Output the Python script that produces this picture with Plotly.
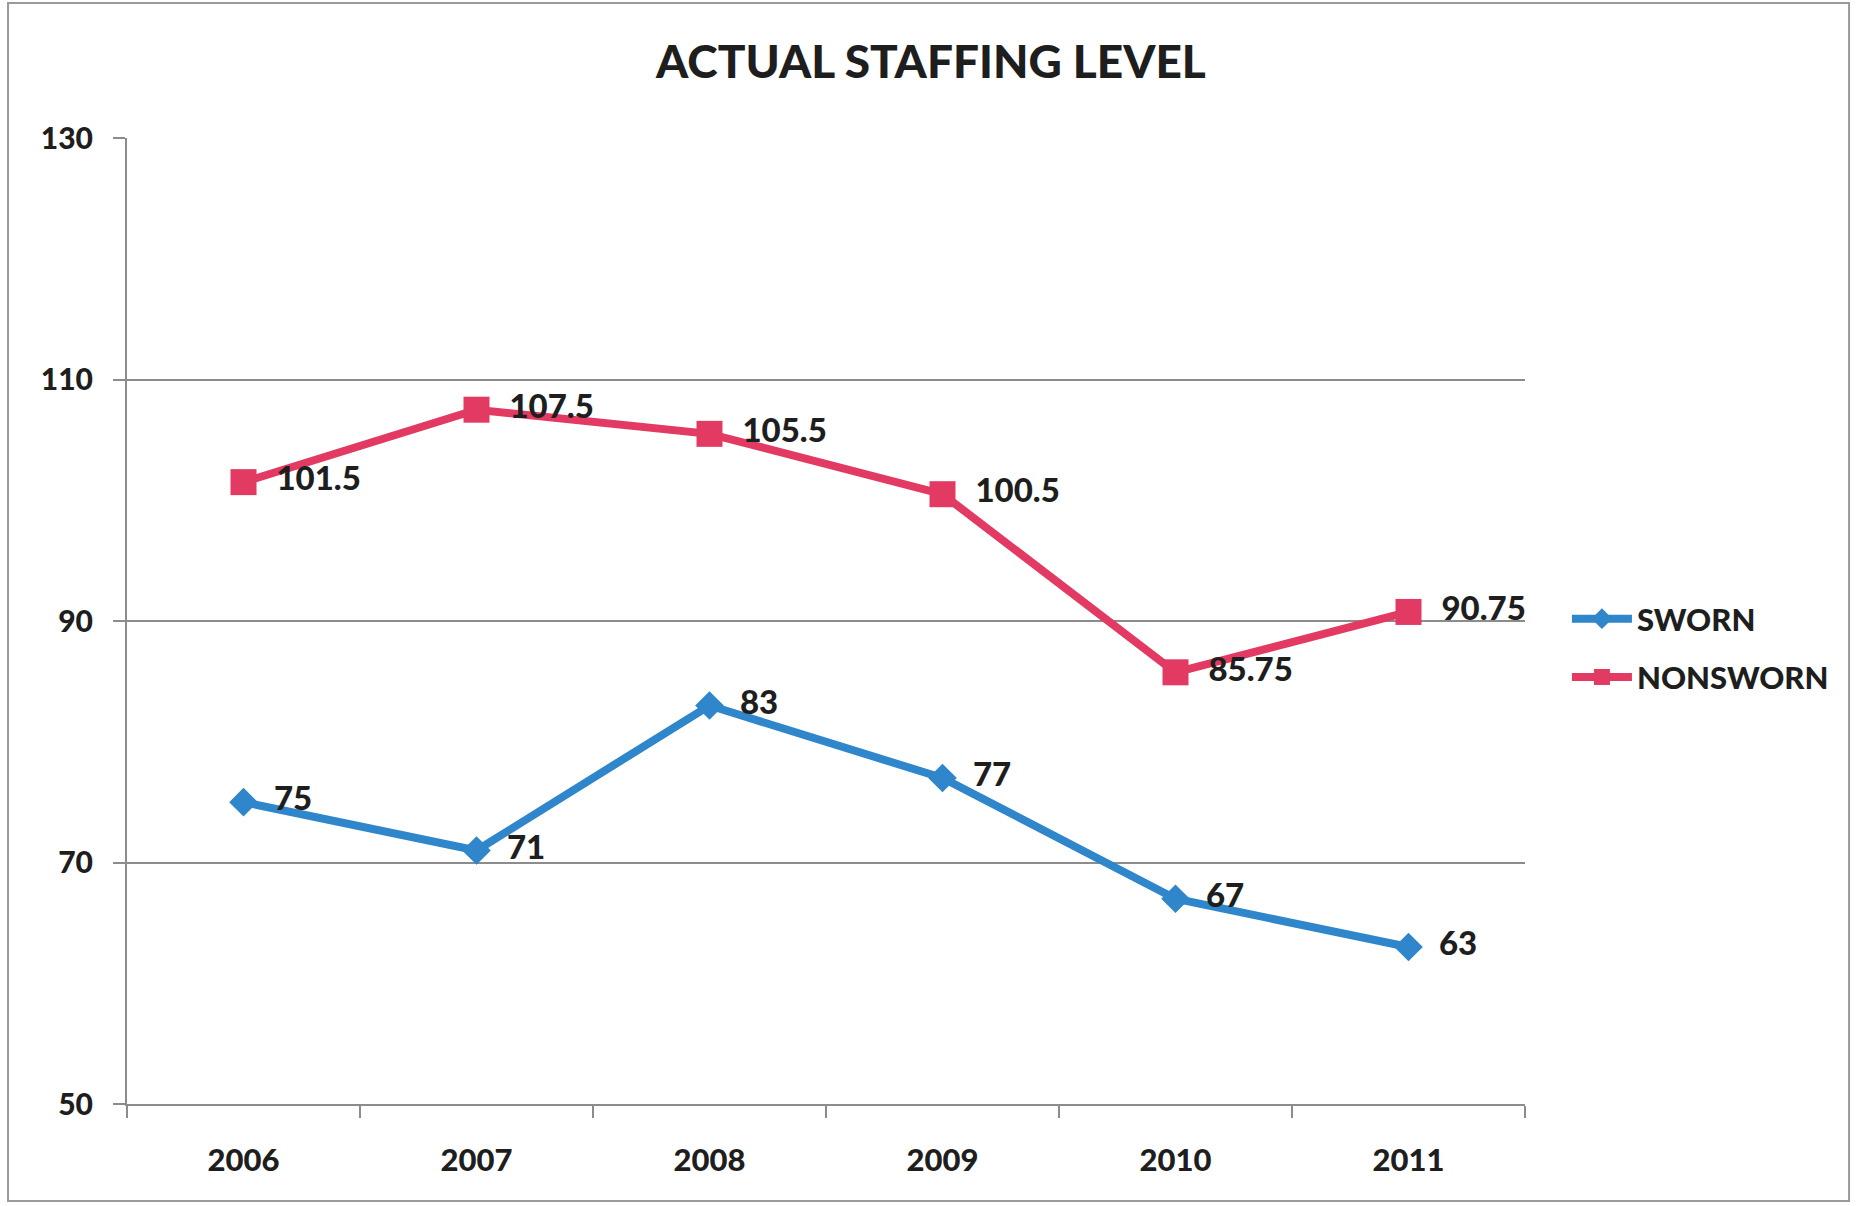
import plotly.graph_objects as go

years = ["2006", "2007", "2008", "2009", "2010", "2011"]
sworn = [75, 71, 83, 77, 67, 63]
nonsworn = [101.5, 107.5, 105.5, 100.5, 85.75, 90.75]
y_ticks = [50, 70, 90, 110, 130]

BLUE = "#2F86CA"
PINK = "#E23A62"
GRID = "#8C8C8C"
INK = "#1E1E1E"
PAD = "\u00a0\u00a0"  # small gap between marker and its value label

label_font = dict(family="Lato", size=33, color=INK, weight=900)

fig = go.Figure()
fig.add_trace(go.Scatter(
    x=years, y=sworn, name="SWORN", mode="lines+markers+text",
    line=dict(color=BLUE, width=8),
    marker=dict(symbol="diamond", size=22, color=BLUE),
    text=[PAD + f"{v:g}" for v in sworn], textposition="middle right",
    textfont=label_font, legendgroup="a", cliponaxis=False,
))
fig.add_trace(go.Scatter(
    x=years, y=nonsworn, name="NONSWORN", mode="lines+markers+text",
    line=dict(color=PINK, width=8),
    marker=dict(symbol="square", size=26, color=PINK),
    text=[PAD + f"{v:g}" for v in nonsworn], textposition="middle right",
    textfont=label_font, legendgroup="b", cliponaxis=False,
))

# outer chart border
fig.add_shape(type="rect", xref="paper", yref="paper",
              x0=-0.0851, x1=1.2318, y0=-0.1004, y1=1.1398,
              line=dict(color="#9A9A9A", width=2), layer="below")

fig.update_layout(
    width=1862, height=1206,
    margin=dict(l=127, r=337, t=138, b=102),
    paper_bgcolor="white", plot_bgcolor="white",
    title=dict(text="ACTUAL STAFFING LEVEL", x=0.5, xref="container",
               y=1 - 62 / 1206, yanchor="middle",
               font=dict(family="Lato", size=46, color=INK, weight=900)),
    showlegend=True,
    legend=dict(x=1.03, y=0.53, xanchor="left", yanchor="top",
                font=dict(family="Lato", size=31, color=INK, weight=900),
                tracegroupgap=15, traceorder="grouped", itemwidth=60,
                bgcolor="rgba(0,0,0,0)"),
    hovermode=False,
)
fig.update_xaxes(
    type="category", range=[-0.5, 5.5], showgrid=False,
    showline=True, linecolor=GRID, linewidth=2,
    ticks="outside", tickson="boundaries", ticklen=12, tickcolor=GRID, tickwidth=1.5,
    ticklabelstandoff=28,
    tickfont=dict(family="Lato", size=31, color=INK, weight=900),
)
fig.update_yaxes(
    range=[50, 130], tickvals=y_ticks, showgrid=True, gridcolor=GRID, gridwidth=1.5,
    showline=True, linecolor=GRID, linewidth=2, zeroline=False,
    ticks="outside", ticklen=12, tickcolor=GRID, tickwidth=1.5,
    ticklabelstandoff=14,
    tickfont=dict(family="Lato", size=30, color=INK, weight=900),
)

fig.write_html("out.html")
